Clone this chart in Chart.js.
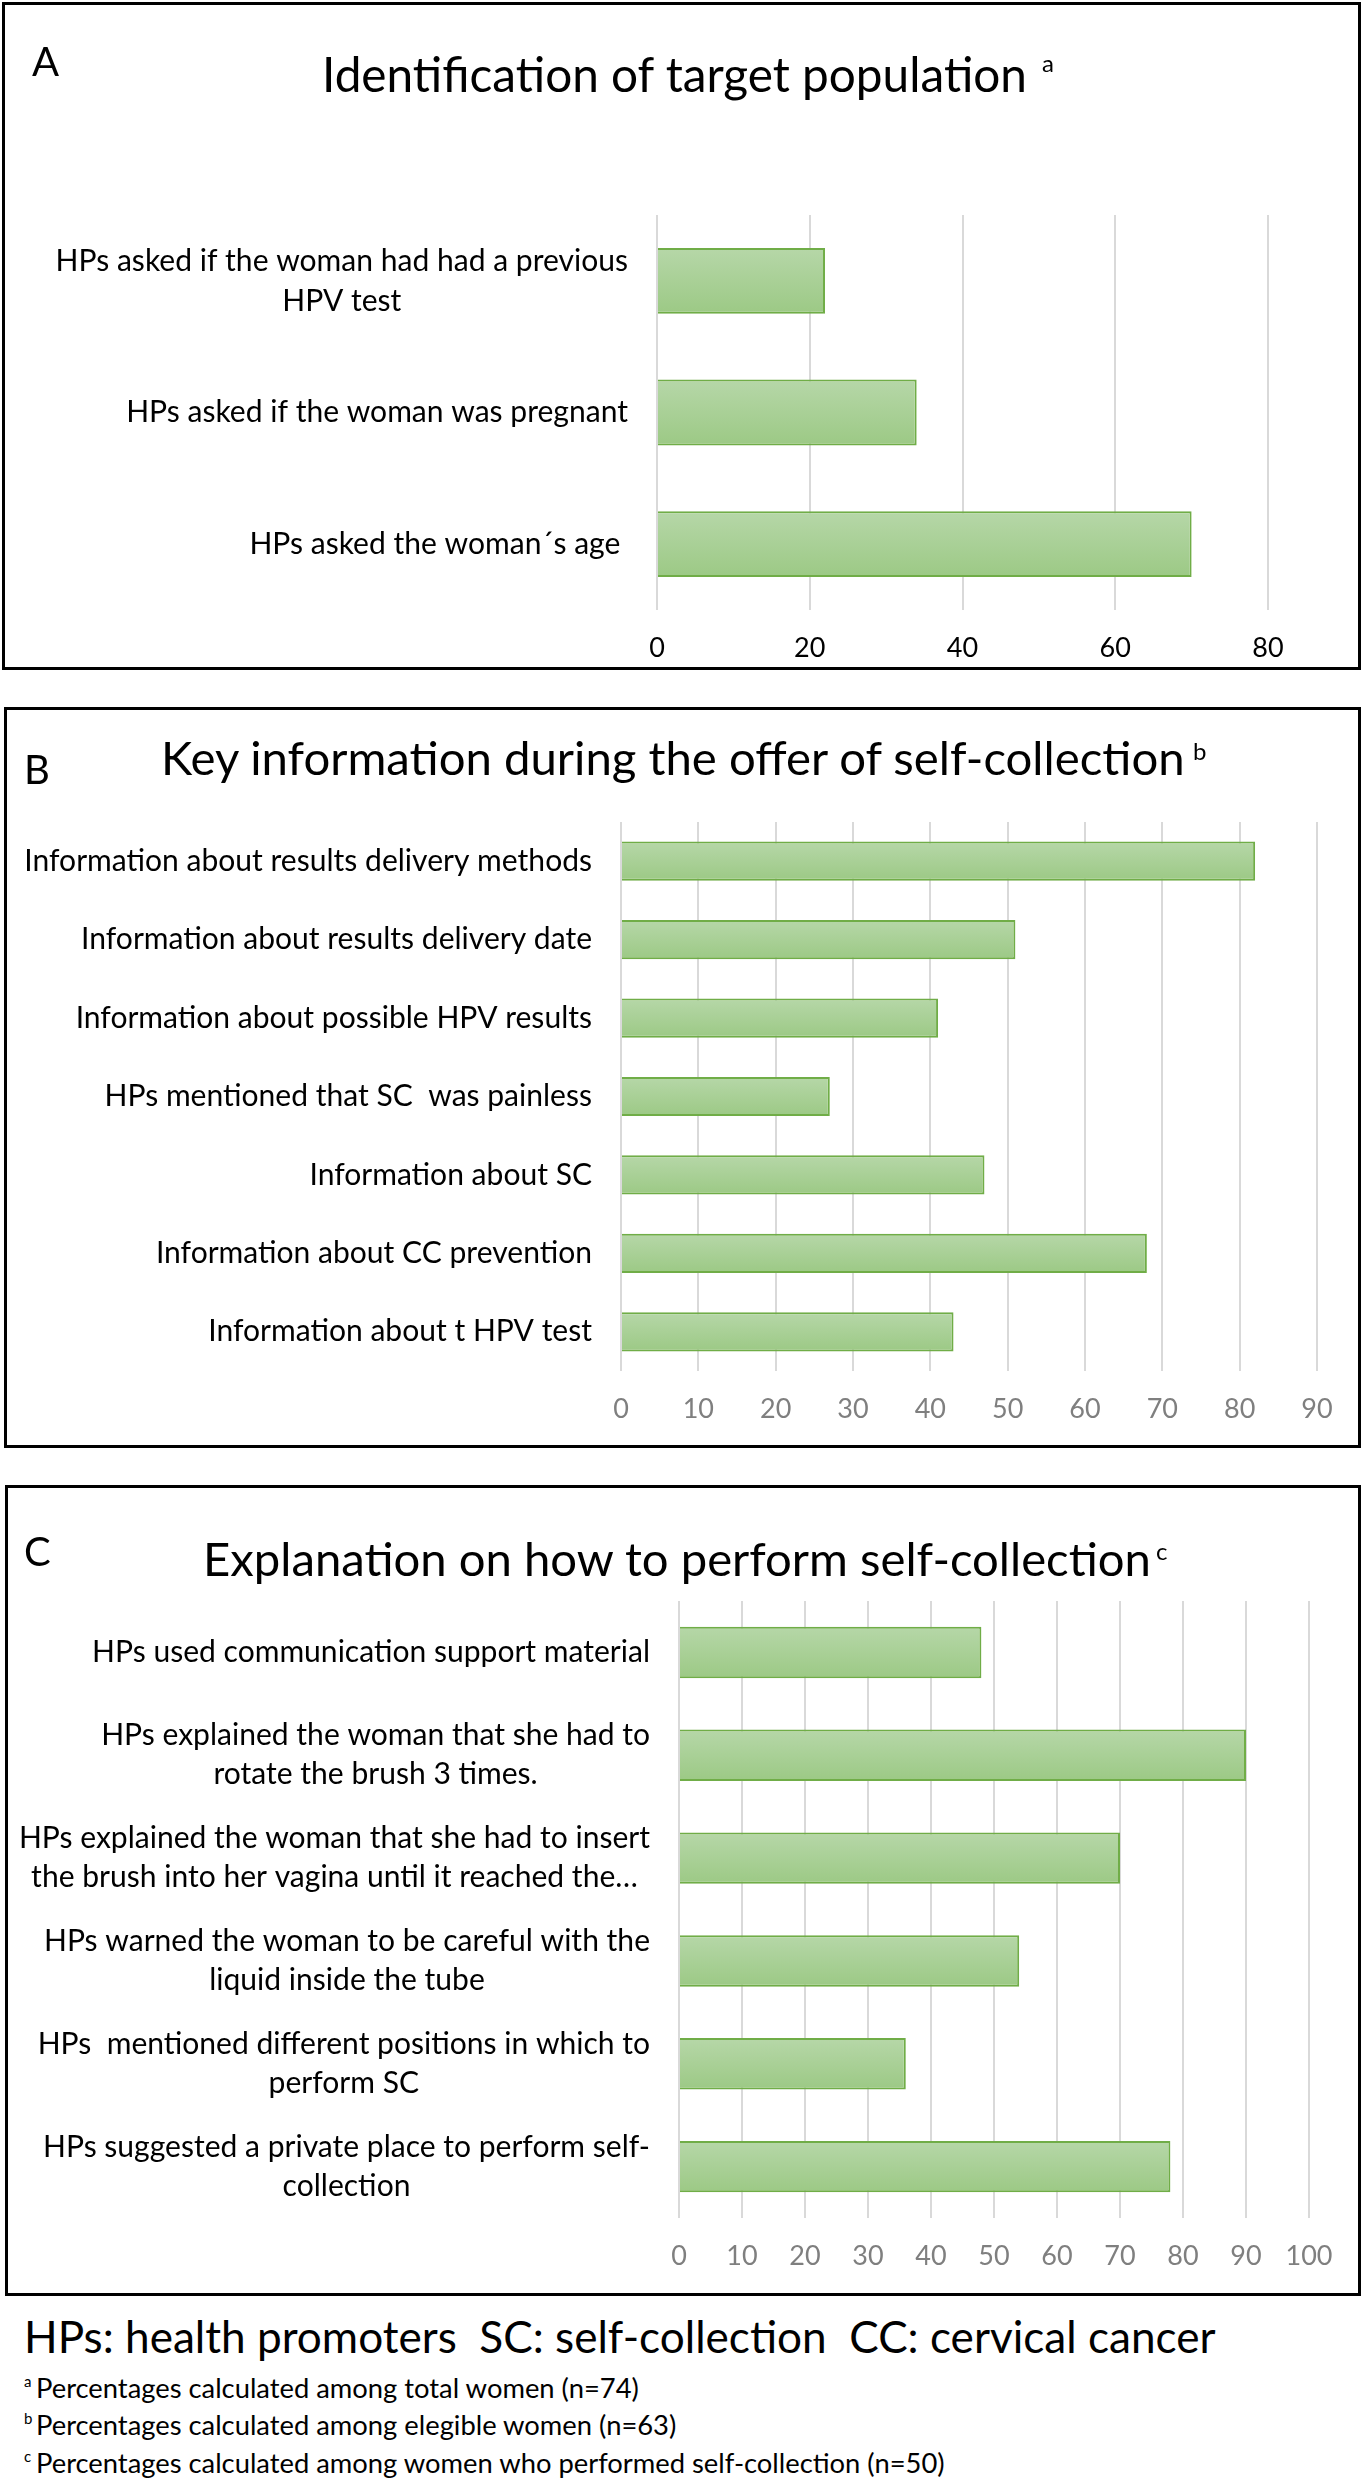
<!DOCTYPE html>
<html lang="en">
<head>
<meta charset="utf-8">
<title>Self-collection offer by health promoters</title>
<script src="https://cdn.jsdelivr.net/npm/chart.js@4.4.1/dist/chart.umd.min.js"></script>
<style>
    html, body { margin: 0; padding: 0; background: #fff; }
    #page { position: relative; width: 1363px; height: 2480px; overflow: hidden; font-family: Lato, sans-serif; }
    .box { position: absolute; box-sizing: border-box; border: 3px solid #000; }
    .plot { position: absolute; }
    .txt { position: absolute; white-space: pre; color: #000; font-family: Lato, sans-serif; }
</style>
</head>
<body>
<div id="page"></div>
<script>
// Panel A - identification of target population
const labelsA = [
    ["HPs asked if the woman had had a previous", "HPV test"],
    "HPs asked if the woman was pregnant",
    "HPs asked the woman´s age ",
];
const valuesA = [22, 34, 70];
const ticksA = [0, 20, 40, 60, 80];

// Panel B - key information during the offer
const labelsB = [
    "Information about results delivery methods",
    "Information about results delivery date",
    "Information about possible HPV results",
    "HPs mentioned that SC  was painless",
    "Information about SC",
    "Information about CC prevention",
    "Information about t HPV test",
];
const valuesB = [82, 51, 41, 27, 47, 68, 43];
const ticksB = [0, 10, 20, 30, 40, 50, 60, 70, 80, 90];

// Panel C - explanation on how to perform self-collection
const labelsC = [
    "HPs used communication support material",
    ["HPs explained the woman that she had to", "rotate the brush 3 times."],
    ["HPs explained the woman that she had to insert", "the brush into her vagina until it reached the…"],
    ["HPs warned the woman to be careful with the", "liquid inside the tube"],
    ["HPs  mentioned different positions in which to", "perform SC"],
    ["HPs suggested a private place to perform self-", "collection"],
];
const valuesC = [48, 90, 70, 54, 36, 78];
const ticksC = [0, 10, 20, 30, 40, 50, 60, 70, 80, 90, 100];

const titles = [
    "Identification of target population",
    "Key information during the offer of self-collection",
    "Explanation on how to perform self-collection",
];
const footLine = "HPs: health promoters  SC: self-collection  CC: cervical cancer";
const footNotes = [
    ["a", "Percentages calculated among total women (n=74)"],
    ["b", "Percentages calculated among elegible women (n=63)"],
    ["c", "Percentages calculated among women who performed self-collection (n=50)"],
];

// page positions (px) measured on the figure
const layout = [
    { letter: "A", sup: "a", box: [2, 2, 1359, 668], plot: [657, 215, 1268, 610],
      titleX: 322, titleW: 706, titleBase: 92, supX: 1042, supBase: 72,
      letterX: 32, letterBase: 76, tickColor: "#000000", lineH: 40 },
    { letter: "B", sup: "b", box: [4, 707, 1357, 741], plot: [621, 822, 1317, 1371],
      titleX: 161, titleW: 1027, titleBase: 775, supX: 1193, supBase: 760,
      letterX: 24, letterBase: 784, tickColor: "#7f7f7f", lineH: 40 },
    { letter: "C", sup: "c", box: [5, 1485, 1356, 811], plot: [679, 1601, 1309, 2218],
      titleX: 203, titleW: 949, titleBase: 1576, supX: 1156, supBase: 1560,
      letterX: 24, letterBase: 1566, tickColor: "#7f7f7f", lineH: 39 },
];

const page = document.getElementById("page");
const meas = document.createElement("canvas").getContext("2d");

function fitSize(str, width) {
    meas.font = "100px Lato";
    return (100 * width) / meas.measureText(str).width;
}

// put a line of text so that its baseline sits at `baseline`
function addText(str, x, baseline, size) {
    meas.font = size + "px Lato";
    const m = meas.measureText(str);
    const el = document.createElement("div");
    el.className = "txt";
    el.textContent = str;
    el.style.fontSize = size + "px";
    el.style.lineHeight = size + "px";
    el.style.left = x + "px";
    el.style.top = baseline - (size + m.fontBoundingBoxAscent - m.fontBoundingBoxDescent) / 2 + "px";
    page.appendChild(el);
}

const labelSize = fitSize(labelsB[0], 568);
const tickSize = 27;

// category labels: right aligned block, wrapped lines centred like Excel does
const sideLabels = {
    id: "sideLabels",
    afterDraw(chart, args, opts) {
        const { ctx, chartArea } = chart;
        const y = chart.scales.y;
        ctx.save();
        ctx.font = opts.size + "px Lato";
        ctx.fillStyle = "#000";
        ctx.textAlign = "center";
        ctx.textBaseline = "middle";
        const right = chartArea.left - opts.gap;
        chart.data.labels.forEach((lab, i) => {
            const lines = Array.isArray(lab) ? lab : [lab];
            const w = Math.max(...lines.map((s) => ctx.measureText(s).width));
            const yc = y.getPixelForValue(i);
            lines.forEach((s, k) => {
                ctx.fillText(s, right - w / 2, yc + (k - (lines.length - 1) / 2) * opts.lineHeight);
            });
        });
        ctx.restore();
    },
};

function barFill(c) {
    const y = c.chart.scales.y;
    if (!y || c.dataIndex === undefined) return "#a9cf95";
    const half = Math.abs(y.getPixelForValue(1) - y.getPixelForValue(0)) * 0.25;
    const yc = y.getPixelForValue(c.dataIndex);
    if (!Number.isFinite(half) || !Number.isFinite(yc)) return "#a9cf95";
    const g = c.chart.ctx.createLinearGradient(0, yc - half, 0, yc + half);
    g.addColorStop(0, "#b6d7a8");
    g.addColorStop(1, "#9cc985");
    return g;
}

function drawPanel(p, title, labels, values, ticks) {
    const [bx, by, bw, bh] = p.box;
    const [x0, y0, x1, y1] = p.plot;
    const pos = { left: bx + "px", top: by + "px", width: bw + "px", height: bh + "px" };

    const box = document.createElement("div");
    box.className = "box";
    Object.assign(box.style, pos);
    page.appendChild(box);

    const wrap = document.createElement("div");
    wrap.className = "plot";
    Object.assign(wrap.style, pos);
    const canvas = document.createElement("canvas");
    wrap.appendChild(canvas);
    page.appendChild(wrap);

    addText(p.letter, p.letterX, p.letterBase, 40);
    addText(title, p.titleX, p.titleBase, fitSize(title, p.titleW));
    addText(p.sup, p.supX, p.supBase, 24);

    new Chart(canvas, {
        type: "bar",
        data: {
            labels: labels,
            datasets: [
                {
                    data: values,
                    backgroundColor: barFill,
                    borderColor: "#70ad47",
                    borderWidth: 2,
                    barPercentage: 0.5,
                    categoryPercentage: 1,
                },
            ],
        },
        options: {
            indexAxis: "y",
            responsive: true,
            maintainAspectRatio: false,
            animation: false,
            events: [],
            layout: {
                padding: { left: x0 - bx, top: y0 - by, right: bx + bw - x1, bottom: 0 },
            },
            scales: {
                y: { display: false },
                x: {
                    min: ticks[0],
                    max: ticks[ticks.length - 1],
                    afterBuildTicks: (s) => {
                        s.ticks = ticks.map((v) => ({ value: v }));
                    },
                    afterFit: (s) => {
                        s.height = by + bh - y1;
                    },
                    grid: { color: "#d9d9d9", lineWidth: 2, drawTicks: false },
                    border: { display: false },
                    ticks: {
                        color: p.tickColor,
                        font: { family: "Lato", size: tickSize },
                        padding: 22,
                        maxRotation: 0,
                        autoSkip: false,
                    },
                },
            },
            plugins: {
                legend: { display: false },
                tooltip: { enabled: false },
                sideLabels: { size: labelSize, gap: 29, lineHeight: p.lineH },
            },
        },
        plugins: [sideLabels],
    });
}

drawPanel(layout[0], titles[0], labelsA, valuesA, ticksA);
drawPanel(layout[1], titles[1], labelsB, valuesB, ticksB);
drawPanel(layout[2], titles[2], labelsC, valuesC, ticksC);

// legend of abbreviations and footnotes
addText(footLine, 24, 2354, fitSize(footLine, 1192));
const noteSize = fitSize(footNotes[2][1], 910);
footNotes.forEach((n, i) => {
    const base = 2398 + i * 37.5;
    addText(n[0], 24, base - 11, 15);
    addText(n[1], 36, base, noteSize);
});
</script>
</body>
</html>
